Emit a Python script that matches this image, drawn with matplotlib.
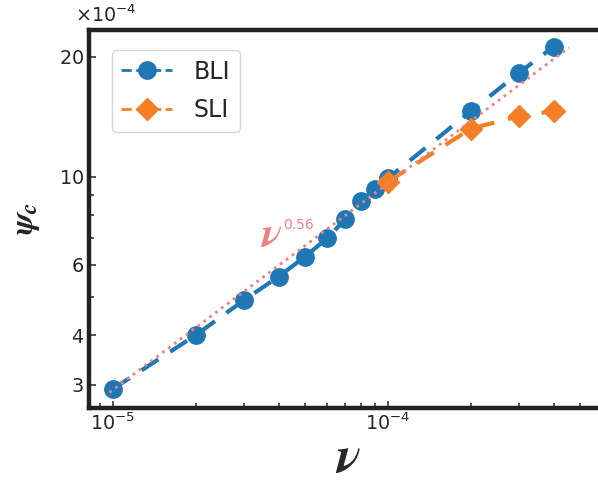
import matplotlib
matplotlib.use("Agg")
import matplotlib.pyplot as plt
from matplotlib.lines import Line2D
from matplotlib.ticker import ScalarFormatter, FixedLocator, LogLocator, NullFormatter
import numpy as np

# --- data -------------------------------------------------------------
nu_bli = [1e-5, 2e-5, 3e-5, 4e-5, 5e-5, 6e-5, 7e-5, 8e-5, 9e-5, 1e-4, 2e-4, 3e-4, 4e-4]
psi_bli = [2.93e-4, 4.00e-4, 4.90e-4, 5.61e-4, 6.30e-4, 7.00e-4, 7.82e-4, 8.71e-4,
           9.31e-4, 9.91e-4, 14.6e-4, 18.25e-4, 21.2e-4]

nu_sli = [1e-4, 2e-4, 3e-4, 4e-4]
psi_sli = [9.71e-4, 13.2e-4, 14.2e-4, 14.6e-4]

# power-law guide line (end points)
nu_fit = [9.7e-6, 4.55e-4]
psi_fit = [2.87e-4, 21.1e-4]
fit_exponent_label = "0.56"

yticks_major = [3e-4, 4e-4, 6e-4, 10e-4, 20e-4]
yticks_minor = [5e-4, 7e-4, 8e-4, 9e-4]

# --- style ------------------------------------------------------------
plt.rcParams["mathtext.fontset"] = "custom"
plt.rcParams["mathtext.it"] = "STIXGeneral:italic:bold"
plt.rcParams["mathtext.rm"] = "DejaVu Sans"
plt.rcParams["mathtext.bf"] = "DejaVu Sans:bold"
plt.rcParams["font.family"] = ["DejaVu Sans"]

ink = "#262626"
blue = "#1f77b4"
orange = "#f57f27"
pink = "lightcoral"

fig = plt.figure(figsize=(5.98, 4.82), dpi=100)
ax = fig.add_axes([0.148, 0.1535, 0.868, 0.785])

ax.plot(nu_bli, psi_bli, color=blue, marker="o", ms=12.5, lw=3,
        ls=(0, (4.8, 3.4)), zorder=3)
ax.plot(nu_sli, psi_sli, color=orange, marker="D", ms=11, lw=3,
        ls=(0, (4.8, 3.4)), zorder=4)
ax.plot(nu_fit, psi_fit, color=pink, ls=":", lw=2, zorder=5)

ax.set_xscale("log")
ax.set_yscale("log")
ax.set_xlim(8.15e-6, 6.28e-4)
ax.set_ylim(2.624e-4, 23.4e-4)

# y axis: fixed ticks with a shared 10^-4 multiplier
fmt = ScalarFormatter(useMathText=True)
fmt.set_powerlimits((-4, -4))
ax.yaxis.set_major_locator(FixedLocator(yticks_major))
ax.yaxis.set_minor_locator(FixedLocator(yticks_minor))
ax.yaxis.set_major_formatter(fmt)
ax.yaxis.set_minor_formatter(NullFormatter())

ax.xaxis.set_major_locator(LogLocator(base=10, numticks=10))
ax.xaxis.set_minor_locator(LogLocator(base=10, subs=np.arange(2, 10), numticks=10))
ax.xaxis.set_minor_formatter(NullFormatter())

for sp in ax.spines.values():
    sp.set_linewidth(3.2)
    sp.set_color("#222222")

ax.tick_params(which="both", direction="in", colors=ink, labelsize=13.8, width=1.1)
ax.tick_params(which="major", length=5)
ax.tick_params(which="minor", length=3.3)
ax.yaxis.get_offset_text().set_fontsize(13.8)
ax.yaxis.get_offset_text().set_color(ink)
ax.yaxis.get_offset_text().set_x(-0.026)
ax.yaxis.OFFSETTEXTPAD = 5.2

ax.set_xlabel(r"$\nu$", fontsize=37, color=ink, labelpad=-1)
ax.set_ylabel(r"$\psi_c$", fontsize=24, color=ink, labelpad=12)

ax.text(3.45e-5, 6.70e-4, r"$\nu$", fontsize=31, color=pink, ha="left", va="baseline")
ax.text(4.15e-5, 7.39e-4, fit_exponent_label, fontsize=10, color=pink, ha="left", va="baseline")

handles = [
    Line2D([], [], color=blue, marker="o", ms=12.5, lw=2, ls="--"),
    Line2D([], [], color=orange, marker="D", ms=11, lw=2, ls="--"),
]
leg = ax.legend(handles, ["BLI", "SLI"], loc="upper left", fontsize=17,
                bbox_to_anchor=(0.0453, 0.946), borderaxespad=0, handlelength=2.16,
                frameon=True, fancybox=True, labelspacing=0.62, handletextpad=0.89,
                borderpad=0.4)
leg.get_frame().set_edgecolor("#cccccc")
leg.get_frame().set_linewidth(1.0)
for t in leg.get_texts():
    t.set_color(ink)

fig.savefig("out.png", dpi=100)
